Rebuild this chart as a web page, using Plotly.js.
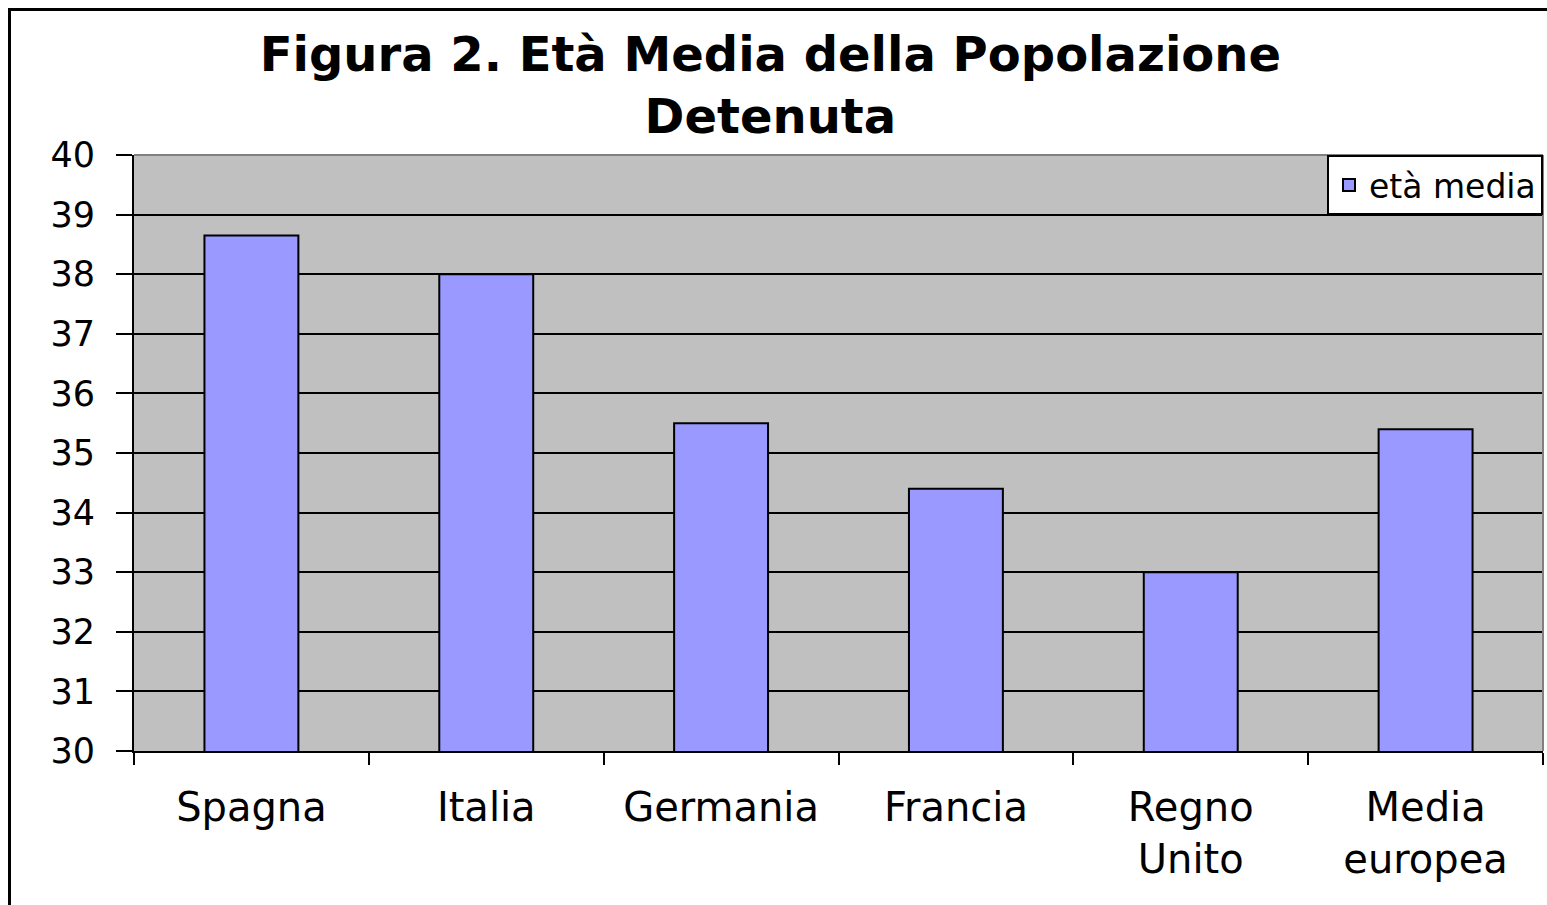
<!DOCTYPE html>
<html>
<head>
<meta charset="utf-8">
<script src="https://cdn.plot.ly/plotly-3.0.1.min.js"></script>
<style>html,body{margin:0;padding:0;background:#fff;}#chart{width:1547px;height:905px;}</style>
</head>
<body>
<div id="chart"></div>
<script>
const categories = ["Spagna", "Italia", "Germania", "Francia", "Regno<br>Unito", "Media<br>europea"];
const etaMedia = [38.65, 38.0, 35.5, 34.4, 33.0, 35.4];
const seriesName = "età media";
const yTicks = [30, 31, 32, 33, 34, 35, 36, 37, 38, 39, 40];

const FONT = "'DejaVu Sans', Arial, sans-serif";

const trace = {
  type: "bar",
  x: categories,
  y: etaMedia,
  name: seriesName,
  marker: { color: "#9999FF", line: { color: "#000000", width: 2 } },
  showlegend: true,
  hoverinfo: "x+y"
};

const layout = {
  width: 1547,
  height: 905,
  margin: { l: 134, r: 4, t: 155, b: 154 },
  paper_bgcolor: "#ffffff",
  plot_bgcolor: "#C0C0C0",
  bargap: 0.6,
  font: { family: FONT, color: "#000000" },
  title: {
    text: "<b>Figura 2. Età Media della Popolazione<br>Detenuta</b>",
    font: { family: FONT, size: 48, color: "#000000" },
    x: 0.498, xref: "container", xanchor: "center",
    y: 0.922, yref: "container", yanchor: "top"
  },
  showlegend: true,
  legend: {
    x: 1, xanchor: "right", y: 1, yanchor: "top",
    bgcolor: "#ffffff", bordercolor: "#000000", borderwidth: 2,
    font: { family: FONT, size: 33, color: "#000000" }
  },
  xaxis: {
    type: "category",
    tickson: "boundaries",
    ticks: "outside", ticklen: 12, tickwidth: 2, tickcolor: "#000000",
    showline: true, linecolor: "#000000", linewidth: 2,
    showgrid: false,
    tickfont: { family: FONT, size: 40, color: "#000000" },
    ticklabelstandoff: 20
  },
  yaxis: {
    range: [30, 40],
    tickvals: yTicks,
    ticktext: yTicks.map(String),
    ticks: "outside", ticklen: 16, tickwidth: 2, tickcolor: "#000000",
    showline: true, linecolor: "#000000", linewidth: 2,
    showgrid: true, gridcolor: "#000000", gridwidth: 2,
    zeroline: false,
    tickfont: { family: FONT, size: 35, color: "#000000" },
    ticklabelstandoff: 14
  },
  shapes: [
    { type: "line", xref: "paper", yref: "paper", x0: 0, x1: 1, y0: 1, y1: 1,
      line: { color: "#808080", width: 2 }, layer: "above" },
    { type: "line", xref: "paper", yref: "paper", x0: 1, x1: 1, y0: 0, y1: 1,
      line: { color: "#808080", width: 2 }, layer: "above" }
  ]
};

Plotly.newPlot("chart", [trace], layout, { displayModeBar: false, responsive: false });
</script>
<div style="position:absolute;left:8px;top:8px;width:1600px;height:1000px;border:3px solid #000;pointer-events:none;box-sizing:border-box;"></div>
</body>
</html>
